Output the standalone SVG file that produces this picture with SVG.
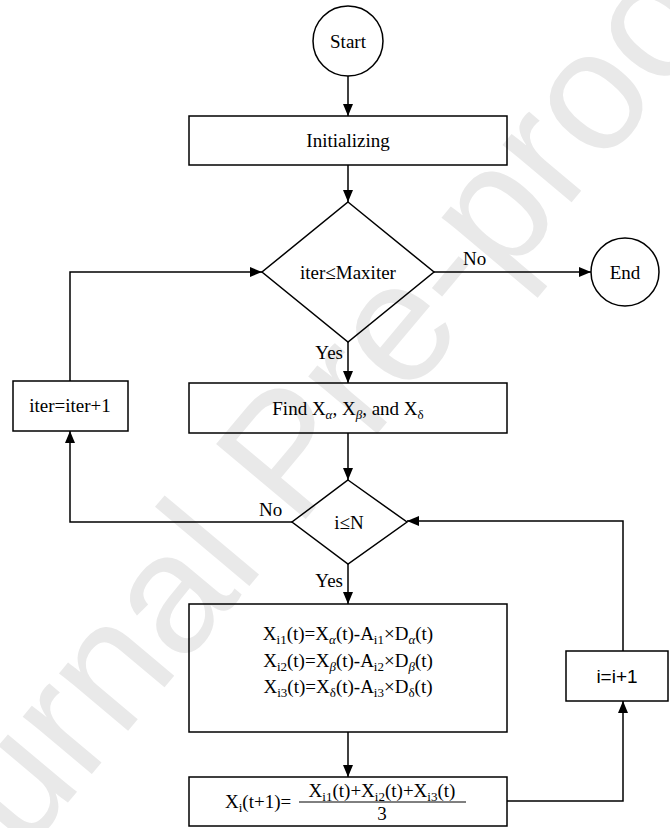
<svg xmlns="http://www.w3.org/2000/svg" width="670" height="828" viewBox="0 0 670 828">
<defs>
<marker id="arr" markerWidth="12" markerHeight="10" refX="12" refY="5" orient="auto" markerUnits="userSpaceOnUse">
<path d="M0,0 L12,5 L0,10 Z" fill="#000"/>
</marker>
<style>
.wm{font-family:"Liberation Sans",Arial,sans-serif;font-size:170px;fill:#e9e9e9}
.shape{fill:none;stroke:#000;stroke-width:1.5}
.conn{fill:none;stroke:#000;stroke-width:1.5}
.t{font-family:"Liberation Serif","Times New Roman",serif;font-size:19px;fill:#000;text-anchor:middle}
.lbl{font-family:"Liberation Serif","Times New Roman",serif;font-size:19px;fill:#000}
.s{font-size:13px}
.gr{font-style:italic}
.sans{font-family:"Liberation Sans",Arial,sans-serif;font-size:19px;fill:#000;text-anchor:middle}
</style>
</defs>
<rect width="670" height="828" fill="#fff"/>
<text class="wm" transform="translate(-92,993) rotate(-50)">Journal Pre-proof</text>

<g id="connectors">
<path class="conn" d="M348,76 V116" marker-end="url(#arr)"/>
<path class="conn" d="M348,165 V202" marker-end="url(#arr)"/>
<path class="conn" d="M434,272 H591" marker-end="url(#arr)"/>
<path class="conn" d="M348,342 V383" marker-end="url(#arr)"/>
<path class="conn" d="M348,433 V480" marker-end="url(#arr)"/>
<path class="conn" d="M292,522 H70 V431" marker-end="url(#arr)"/>
<path class="conn" d="M70,381 V272 H262" marker-end="url(#arr)"/>
<path class="conn" d="M348,564 V604" marker-end="url(#arr)"/>
<path class="conn" d="M348,732 V777" marker-end="url(#arr)"/>
<path class="conn" d="M507,801 H623 V701" marker-end="url(#arr)"/>
<path class="conn" d="M623,651 V521 H407" marker-end="url(#arr)"/>
<text class="lbl" x="463" y="265">No</text>
<text class="lbl" x="343" y="359" text-anchor="end">Yes</text>
<text class="lbl" x="259" y="516">No</text>
<text class="lbl" x="343" y="587" text-anchor="end">Yes</text>
</g>

<g id="start">
<circle class="shape" cx="348" cy="41" r="35"/>
<text class="t" x="348" y="48">Start</text>
</g>

<g id="init">
<rect class="shape" x="189" y="116" width="318" height="49"/>
<text class="t" x="348" y="147">Initializing</text>
</g>

<g id="cond-iter">
<path class="shape" d="M348,202 L434,272 L348,342 L262,272 Z"/>
<text class="t" x="348" y="279">iter≤Maxiter</text>
</g>

<g id="end">
<circle class="shape" cx="625" cy="272" r="34"/>
<text class="t" x="625" y="279">End</text>
</g>

<g id="find">
<rect class="shape" x="189" y="383" width="318" height="50"/>
<text class="t" x="348" y="415">Find X<tspan class="s gr" dy="4">α</tspan><tspan dy="-4">, X</tspan><tspan class="s gr" dy="4">β</tspan><tspan dy="-4">, and X</tspan><tspan class="s" dy="4">δ</tspan></text>
</g>

<g id="iter-inc">
<rect class="shape" x="13" y="381" width="115" height="50"/>
<text class="t" x="70" y="412">iter=iter+1</text>
</g>

<g id="cond-i">
<path class="shape" d="M348,480 L407,522 L348,564 L292,522 Z"/>
<text class="t" x="349" y="529">i≤N</text>
</g>

<g id="update">
<rect class="shape" x="189" y="604" width="318" height="128"/>
<text class="t" x="348" y="640">X<tspan class="s" dy="4">i1</tspan><tspan dy="-4">(t)=X</tspan><tspan class="s gr" dy="4">α</tspan><tspan dy="-4">(t)-A</tspan><tspan class="s" dy="4">i1</tspan><tspan dy="-4">×D</tspan><tspan class="s gr" dy="4">α</tspan><tspan dy="-4">(t)</tspan></text>
<text class="t" x="348" y="667">X<tspan class="s" dy="4">i2</tspan><tspan dy="-4">(t)=X</tspan><tspan class="s gr" dy="4">β</tspan><tspan dy="-4">(t)-A</tspan><tspan class="s" dy="4">i2</tspan><tspan dy="-4">×D</tspan><tspan class="s gr" dy="4">β</tspan><tspan dy="-4">(t)</tspan></text>
<text class="t" x="348" y="693">X<tspan class="s" dy="4">i3</tspan><tspan dy="-4">(t)=X</tspan><tspan class="s" dy="4">δ</tspan><tspan dy="-4">(t)-A</tspan><tspan class="s" dy="4">i3</tspan><tspan dy="-4">×D</tspan><tspan class="s" dy="4">δ</tspan><tspan dy="-4">(t)</tspan></text>
</g>

<g id="average">
<rect class="shape" x="189" y="777" width="318" height="49"/>
<text class="lbl" x="225" y="808">X<tspan class="s" dy="4">i</tspan><tspan dy="-4">(t+1)=</tspan></text>
<line x1="299" y1="802" x2="466" y2="802" stroke="#000" stroke-width="1"/>
<text class="t" x="382" y="797">X<tspan class="s" dy="4">i1</tspan><tspan dy="-4">(t)+X</tspan><tspan class="s" dy="4">i2</tspan><tspan dy="-4">(t)+X</tspan><tspan class="s" dy="4">i3</tspan><tspan dy="-4">(t)</tspan></text>
<text class="t" x="382" y="820">3</text>
</g>

<g id="i-inc">
<rect class="shape" x="566" y="651" width="102" height="50"/>
<text class="sans" x="617" y="683">i=i+1</text>
</g>
</svg>
